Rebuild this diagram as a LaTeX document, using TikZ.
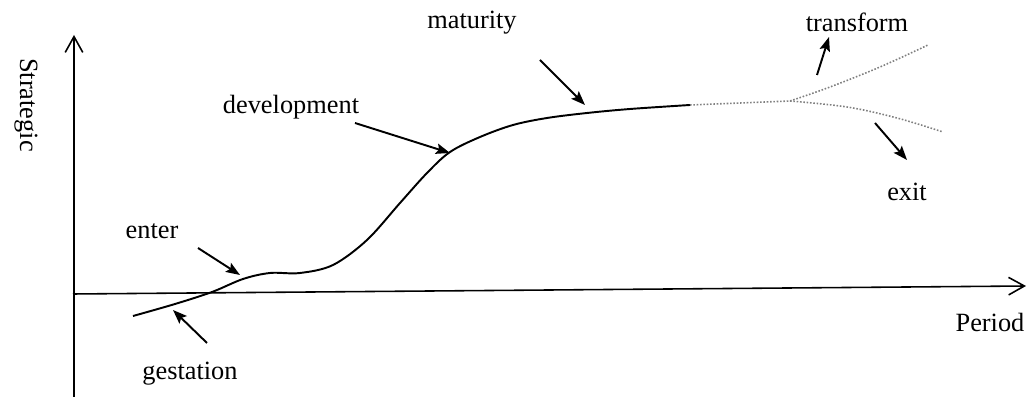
\documentclass[tikz,border=0pt]{standalone}
\usepackage{fontspec}
\setmainfont{Liberation Serif}
\usetikzlibrary{arrows.meta}

\tikzset{
  axis/.style={line width=0.9pt, -{Straight Barb[length=9pt,width=10pt]}},
  lifecurve/.style={line width=1.1pt},
  futurecurve/.style={line width=0.9pt, gray, densely dotted},
  callout/.style={line width=1.1pt, -{Stealth[length=8pt,width=6pt,inset=1.5pt]}},
  stagelabel/.style={font=\fontsize{15}{17}\selectfont, inner sep=1pt}
}

\begin{document}
\begin{tikzpicture}[x=0.02cm, y=0.02cm]
  \useasboundingbox (0,0) rectangle (1028,398);

  % Axes
  \coordinate (ytop) at (74,363);
  \coordinate (ybottom) at (74,1);
  \coordinate (xleft) at (73,104);
  \coordinate (xright) at (1026,112);
  \draw[axis] (ybottom) -- (ytop);
  \draw[axis] (xleft) -- (xright);
  \node[stagelabel, rotate=-90] (strategic) at (26,293) {Strategic};
  \node[stagelabel] (period) at (990,76) {Period};

  % Life cycle curve
  \draw[lifecurve] plot[smooth, tension=0.55] coordinates {
    (133,82) (175,94) (212,106) (243,119) (270,125) (300,125) (333,133)
    (367,158) (400,195) (427,225) (450,246) (480,261) (513,273)
    (547,280) (587,285) (630,289) (690,293)};

  % Transform / exit branches
  \draw[futurecurve] (690,293) -- (790,297);
  \draw[futurecurve] plot[smooth, tension=0.6] coordinates {(790,297) (830,311) (880,331) (928,353)};
  \draw[futurecurve] plot[smooth, tension=0.6] coordinates {(790,297) (847,291) (897,280) (943,266)};

  % Stage labels
  \node[stagelabel] (gestation) at (190,24) {gestation};
  \node[stagelabel] (enter) at (152,167) {enter};
  \node[stagelabel] (development) at (291,291) {development};
  \node[stagelabel] (maturity) at (472,375) {maturity};
  \node[stagelabel] (transform) at (857,376) {transform};
  \node[stagelabel] (exit) at (907,206) {exit};

  % Arrow ends
  \coordinate (gestation-tail) at (207,55);
  \coordinate (gestation-head) at (173,88);
  \coordinate (enter-tail) at (198,150);
  \coordinate (enter-head) at (240,123);
  \coordinate (development-tail) at (355,275);
  \coordinate (development-head) at (450,245);
  \coordinate (maturity-tail) at (540,338);
  \coordinate (maturity-head) at (585,293);
  \coordinate (transform-tail) at (817,323);
  \coordinate (transform-head) at (829,361);
  \coordinate (exit-tail) at (875,275);
  \coordinate (exit-head) at (907,238);

  \draw[callout] (gestation-tail) -- (gestation-head);
  \draw[callout] (enter-tail) -- (enter-head);
  \draw[callout] (development-tail) -- (development-head);
  \draw[callout] (maturity-tail) -- (maturity-head);
  \draw[callout] (transform-tail) -- (transform-head);
  \draw[callout] (exit-tail) -- (exit-head);
\end{tikzpicture}
\end{document}
